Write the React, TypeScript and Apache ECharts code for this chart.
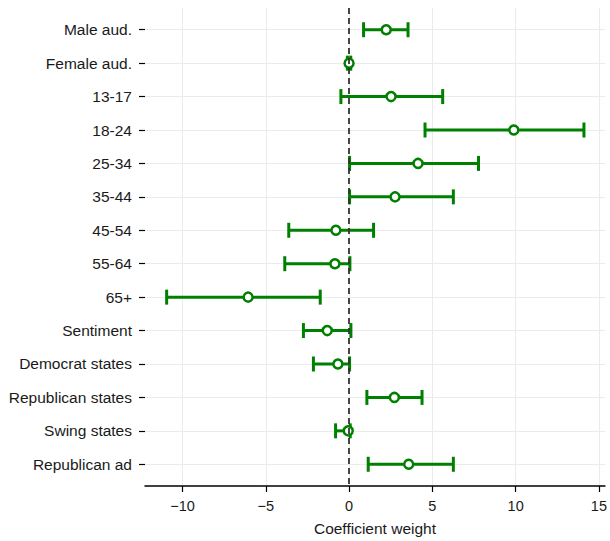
import React, { useEffect, useRef } from "react";
import * as echarts from "echarts";

const categories = [
  "Male aud.", "Female aud.", "13-17", "18-24", "25-34", "35-44", "45-54",
  "55-64", "65+", "Sentiment", "Democrat states", "Republican states",
  "Swing states", "Republican ad",
];
const estimates = [2.23, 0.0, 2.52, 9.89, 4.14, 2.76, -0.79, -0.85, -6.06, -1.31, -0.67, 2.72, -0.05, 3.58];
const lower = [0.87, -0.1, -0.49, 4.56, 0.03, 0.03, -3.62, -3.86, -10.95, -2.74, -2.14, 1.07, -0.81, 1.15];
const upper = [3.54, 0.1, 5.62, 14.1, 7.77, 6.26, 1.47, 0.05, -1.73, 0.11, 0.03, 4.38, 0.07, 6.26];
const xTicks = [-10, -5, 0, 5, 10, 15];
const yTicks = categories.map((_, i) => i);

const GREEN = "#008000";
const FONT = "Liberation Sans, Arial, Helvetica, sans-serif";

export default function App() {
  const ref = useRef<HTMLDivElement>(null);
  useEffect(() => {
    if (!ref.current) return;
    const chart = echarts.init(ref.current, null, { renderer: "svg" });
    const data = categories.map((_, i) => [i, lower[i], estimates[i], upper[i]]);
    chart.setOption({
      animation: false,
      backgroundColor: "#ffffff",
      grid: { left: 145, right: 4, top: 8, bottom: 52, containLabel: false },
      xAxis: {
        type: "value",
        min: -12.25,
        max: 15.36,
        name: "Coefficient weight",
        nameLocation: "middle",
        nameGap: 34,
        nameTextStyle: { fontFamily: FONT, fontSize: 15.5, color: "#1a1a1a", verticalAlign: "top" },
        axisLine: { show: true, onZero: false, lineStyle: { color: "#000", width: 1.5 } },
        axisTick: { show: true, length: 6, customValues: xTicks, lineStyle: { color: "#000", width: 1.2 } },
        axisLabel: {
          customValues: xTicks,
          margin: 12,
          fontFamily: FONT,
          fontSize: 14.5,
          color: "#1a1a1a",
          formatter: (v: number) => String(v).replace("-", "\u2212"),
        },
        splitLine: { show: true, lineStyle: { color: "#ebebeb", width: 1 } },
      },
      yAxis: {
        type: "value",
        inverse: true,
        min: -0.65,
        max: 13.65,
        axisLine: { show: false, onZero: false },
        axisTick: { show: true, length: 6, customValues: yTicks, lineStyle: { color: "#000", width: 1.2 } },
        axisLabel: {
          customValues: yTicks,
          margin: 13,
          fontFamily: FONT,
          fontSize: 15.5,
          color: "#1a1a1a",
          formatter: (v: number) => categories[Math.round(v)] ?? "",
        },
        splitLine: { show: true, lineStyle: { color: "#ebebeb", width: 1 } },
      },
      series: [
        {
          type: "line",
          data: [],
          z: 1,
          markLine: {
            silent: true,
            symbol: "none",
            label: { show: false },
            lineStyle: { color: "#333333", type: [6, 4], width: 1.8 },
            data: [{ xAxis: 0 }],
          },
        },
        {
          type: "custom",
          z: 3,
          data,
          encode: { x: [1, 2, 3], y: 0 },
          renderItem: (params: any, api: any) => {
            const y = api.value(0);
            const lo = api.coord([api.value(1), y]);
            const mid = api.coord([api.value(2), y]);
            const hi = api.coord([api.value(3), y]);
            const cap = 7.5;
            const ls = { stroke: GREEN, lineWidth: 3 };
            return {
              type: "group",
              children: [
                { type: "line", shape: { x1: lo[0], y1: lo[1], x2: hi[0], y2: hi[1] }, style: ls },
                { type: "line", shape: { x1: lo[0], y1: lo[1] - cap, x2: lo[0], y2: lo[1] + cap }, style: ls },
                { type: "line", shape: { x1: hi[0], y1: hi[1] - cap, x2: hi[0], y2: hi[1] + cap }, style: ls },
                {
                  type: "circle",
                  shape: { cx: mid[0], cy: mid[1], r: 4.5 },
                  style: { fill: "#ffffff", stroke: GREEN, lineWidth: 2.5 },
                },
              ],
            };
          },
        },
      ],
    });
    return () => chart.dispose();
  }, []);
  return <div ref={ref} style={{ position: "fixed", left: 0, top: 0, width: 610, height: 541 }} />;
}
